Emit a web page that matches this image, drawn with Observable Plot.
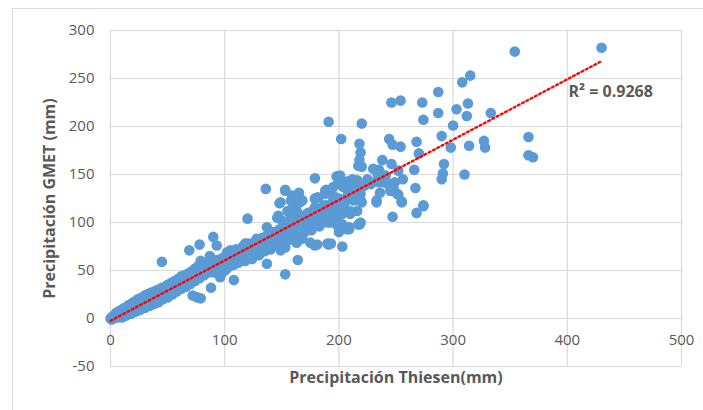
<!DOCTYPE html>
<html><head><meta charset="utf-8">
<script src="https://cdn.jsdelivr.net/npm/d3@7"></script>
<script src="https://cdn.jsdelivr.net/npm/@observablehq/plot@0.6"></script>
<style>
body{margin:0;background:#fff;}
#wrap{position:relative;width:703px;height:410px;overflow:hidden;background:#fff;}
#frame{position:absolute;left:12px;top:8px;width:800px;height:500px;border:1px solid #d9d9d9;pointer-events:none;}
#wrap svg{position:absolute;left:0;top:0;}
</style></head><body><div id="wrap"><div id="frame"></div></div>
<script>
// Thiesen (x) vs GMET (y) pairs
const lowBand = [
 [0,0],[1,1],[1,-1],[2,0],[2,2],[3,1],[3,3],[4,1],[4,3],[5,2],[5,4],[6,3],[6,1],[7,4],[7,2],[8,5],[8,3],[9,5],[9,3],[10,6],[10,4],[11,7],[11,5],[12,5],[12,8],[13,8],[13,6],[14,7],[14,9],[15,9],[15,6],[16,10],[16,7],[17,11],[17,8],[18,9],[18,12],[19,13],[19,10],[20,11],[20,14],[21,13],[21,9],[22,15],[22,12],[23,14],[23,10],[24,16],[24,13],[25,17],[25,12],[26,15],[26,18],[27,17],[27,13],[28,19],[28,15],[29,18],[30,16],[30,20],[31,21],[32,18],[32,22],[33,21],[34,19],[34,24],[35,22],[36,20],[36,25],[37,24],[38,21],[39,26],[40,25],[41,23],[41,28],[42,27],[43,24],[44,29],[45,28],[46,22],[47,27],[48,30],[49,26],[50,29],[51,26],[52,32],[53,30],[54,31],[55,34],[56,30],[57,33],[58,36],[60,35],[61,38],[62,42],[63,34],[64,37],[65,40],[66,43],[67,39],[68,41],[70,44],[71,47],[72,45],[73,42],[74,48],[75,51],[76,46],[77,49],[78,50],[79,53],[80,49],[81,55],[82,52],[83,56],[84,50],[85,54],[86,58],[87,52],[88,55],[89,60],[90,52],[91,48],[92,57],[93,61],[94,54],[95,50],[96,59],[97,46],[98,63],[99,55],[100,58],[101,64],[102,52],[103,62],[104,66],[106,64],[107,68],[108,56],[109,66],[110,62]
];
const lowUpper = [
 [5,6],[8,8],[10,9],[12,11],[14,12],[16,14],[18,15],[20,17],[22,18],[24,20],[26,21],[28,22],[30,24],[32,25],[34,26],[36,27],[38,28],[40,29],[42,30],[45,32],[48,33],[50,35],[53,37],[56,39],[59,41],[62,44],[65,45],[68,47],[71,49],[74,52],[77,55]
];
const lowLower = [
 [10,1],[14,3],[18,5],[22,7],[26,9],[30,11],[34,13],[38,15],[42,17],[46,20],[50,22],[54,25],[58,28],[62,31],[66,33],[70,36],[74,39],[78,42],[82,45],[86,48],[90,50],[95,54],[100,50],[105,55],[76,22]
];
const midBand = [
 [112,65],[115,68],[118,70],[120,72],[122,66],[125,74],[128,76],[130,70],[132,78],[134,80],[136,74],[138,82],[140,78],[142,85],[144,88],[146,80],[148,90],[150,86],[152,92],[154,95],[156,88],[158,97],[160,93],[162,100],[164,96],[166,98],[168,102],[170,96],[172,100],[174,106],[176,98],[178,108],[180,102],[182,110],[184,100],[186,115],[188,106],[190,118],[194,115],[197,120],[200,125],[202,112],[205,120],[208,130],[212,128],[215,135],[222,138],[225,145],[228,140]
];
const midSpread = [
 [112,58],[116,75],[118,60],[122,78],[124,62],[127,80],[130,66],[133,84],[135,70],[138,88],[140,72],[143,90],[145,76],[148,93],[151,78],[155,98],[157,82],[161,103],[163,86],[167,107],[170,90],[173,110],[176,92],[180,113],[183,96],[187,118],[190,100],[195,122],[198,104]
];
const scatterPts = [
 [430,282],[354,278],[315,253],[308,246],[287,236],[254,227],[246,225],[273,225],[313,224],[303,218],[287,214],[333,214],[312,211],[274,207],[191,205],[220,203],[300,201],[202,187],[290,190],[244,187],[268,184],[327,185],[366,189],[247,181],[218,182],[254,179],[298,178],[314,180],[328,178],[270,172],[219,173],[218,165],[217,159],[220,158],[366,170],[370,168],[246,161],[238,165],[292,161],[266,155],[230,156],[235,155],[234,150],[236,152],[241,149],[252,154],[291,151],[290,145],[310,150],[256,145],[179,146],[198,148],[201,149],[216,144],[213,140],[207,142],[204,137],[200,141],[199,140],[195,137],[208,143],[212,145],[219,130],[211,133],[242,141],[237,142],[233,143],[245,137],[249,142],[235,142],[236,131],[246,133],[251,130],[245,133],[267,136],[248,135],[252,129],[255,122],[255,121],[233,123],[233,121],[220,121],[213,123],[207,126],[219,123],[216,112],[210,112],[204,116],[210,109],[203,109],[193,112],[195,110],[188,112],[192,100],[203,98],[219,100],[218,98],[209,95],[198,98],[200,90],[209,93],[207,93],[217,98],[192,102],[274,118],[268,110],[247,106],[274,117],[136,135],[153,134],[165,130],[159,128],[189,134],[188,130],[182,126],[148,120],[160,119],[158,123],[166,121],[168,123],[181,126],[195,123],[195,128],[188,133],[153,133],[165,131],[149,121],[155,112],[163,112],[177,112],[179,116],[179,125],[120,104],[137,95],[146,105],[158,107],[147,107],[158,105],[166,107],[172,109],[184,104],[191,112],[150,102],[160,95],[166,105],[175,104],[210,110],[203,75],[179,76],[190,78],[193,78],[168,83],[163,79],[164,61],[153,46],[137,57],[153,74],[128,83],[119,78],[110,72],[90,85],[93,76],[78,77],[69,71],[45,59],[87,65],[79,60],[108,40],[96,43],[88,32],[79,21],[72,24],[105,57],[102,69],[118,78],[146,83],[155,84],[175,79],[181,77],[191,77],[149,71],[105,71],[104,60],[114,62]
];
const points = [...lowBand, ...lowUpper, ...lowLower, ...midBand, ...midSpread, ...scatterPts];

const xTicks = [0,100,200,300,400,500];
const yTicks = [-50,0,50,100,150,200,250,300];
const trendEnds = [0,430];
const trendSlope = 0.629;
const trendIntercept = -2.4;
const r2Label = [{x:401, y:236, text:"R² = 0.9268"}];
const xTitle = ["Precipitación Thiesen(mm)"];
const yTitle = ["Precipitación GMET (mm)"];

const chart = Plot.plot({
  width:703, height:410,
  marginLeft:110, marginRight:22, marginTop:30, marginBottom:44,
  style:{fontFamily:"'Open Sans', sans-serif", color:"#595959", background:"transparent"},
  x:{domain:[0,500], axis:null},
  y:{domain:[-50,300]},
  marks:[
    Plot.gridX(xTicks,{stroke:"#d9d9d9", strokeOpacity:1, strokeWidth:1.2}),
    Plot.gridY(yTicks,{stroke:"#d9d9d9", strokeOpacity:1, strokeWidth:1.2}),
    Plot.axisY(yTicks,{tickSize:0, tickPadding:16, fontSize:15, label:null, tickFormat:d=>String(d)}),
    Plot.text(xTicks,{x:d=>d, y:()=>0, dy:22, fontSize:15, text:d=>String(d), fill:"#595959"}),
    Plot.dot(points,{x:d=>d[0], y:d=>d[1], r:5.3, fill:"#5b9bd5", stroke:"none"}),
    Plot.line(trendEnds,{x:d=>d, y:d=>trendSlope*d+trendIntercept, stroke:"#ff0000", strokeWidth:2.3, strokeDasharray:"2,2.8"}),
    Plot.text(r2Label,{x:"x", y:"y", text:"text", textAnchor:"start", fontSize:16, fontWeight:"bold", fill:"#595959"}),
    Plot.text(xTitle,{frameAnchor:"bottom", dy:16, text:d=>d, fontSize:16, fontWeight:"bold", fill:"#595959"}),
    Plot.text(yTitle,{frameAnchor:"left", textAnchor:"middle", dx:-61, rotate:-90, text:d=>d, fontSize:16, fontWeight:"bold", fill:"#595959"})
  ]
});
document.getElementById("wrap").appendChild(chart);
</script></body></html>
